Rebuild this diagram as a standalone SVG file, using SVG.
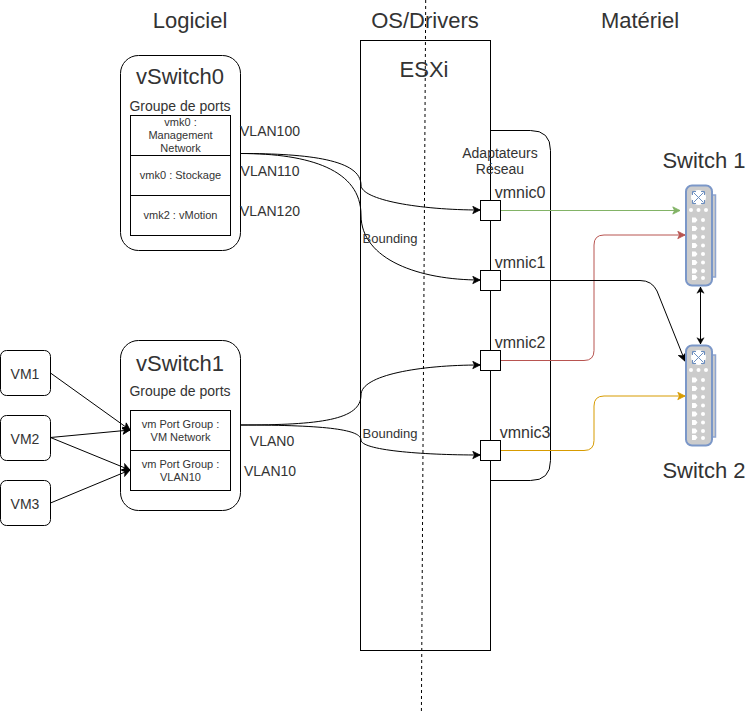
<svg xmlns="http://www.w3.org/2000/svg" width="751" height="712" viewBox="0 0 751 712">
<style>
text{font-family:"Liberation Sans",Arial,sans-serif;fill:#333;text-anchor:middle}
.b{fill:#fff;stroke:#000;stroke-width:1}
.c{fill:none;stroke:#000;stroke-width:1}
.h{font-size:22px}.t{font-size:22px}.m{font-size:14px}.s{font-size:11px}.n{font-size:16px}.l{font-size:13px}
</style>
<defs>
<marker id="a" markerUnits="userSpaceOnUse" viewBox="0 0 10 10" refX="9" refY="5" markerWidth="9" markerHeight="9" orient="auto"><path d="M1 1L9 5L1 9L3 5Z" fill="#000" stroke="#000"/></marker>
<marker id="ag" markerUnits="userSpaceOnUse" viewBox="0 0 10 10" refX="9" refY="5" markerWidth="9" markerHeight="9" orient="auto"><path d="M1 1L9 5L1 9L3 5Z" fill="#82b366" stroke="#82b366"/></marker>
<marker id="ar" markerUnits="userSpaceOnUse" viewBox="0 0 10 10" refX="9" refY="5" markerWidth="9" markerHeight="9" orient="auto"><path d="M1 1L9 5L1 9L3 5Z" fill="#b85450" stroke="#b85450"/></marker>
<marker id="ao" markerUnits="userSpaceOnUse" viewBox="0 0 10 10" refX="9" refY="5" markerWidth="9" markerHeight="9" orient="auto"><path d="M1 1L9 5L1 9L3 5Z" fill="#d79b00" stroke="#d79b00"/></marker>
<marker id="as" markerUnits="userSpaceOnUse" viewBox="0 0 10 10" refX="9" refY="5" markerWidth="9" markerHeight="9" orient="auto-start-reverse"><path d="M2 1L9 5L2 9L4 5Z" fill="#000" stroke="#000" stroke-width="0.5"/></marker>
<g id="sw">
<rect x="711.500" y="10" width="4" height="82" fill="#ccc" stroke="#8ea4cf" stroke-width="1.500"/>
<rect x="686" y="0.500" width="26" height="100" rx="6" fill="#ccc" stroke="#7b97c8" stroke-width="2"/>
<circle cx="698.500" cy="12.500" r="7.500" fill="#fff"/>
<path d="M693.500 7.500L703.500 17.500M703.500 7.500L693.500 17.500M692.500 6.500h3.500M692.500 6.500v3.500M704.500 6.500h-3.500M704.500 6.500v3.500M692.500 18.500h3.500M692.500 18.500v-3.500M704.500 18.500h-3.500M704.500 18.500v-3.500" fill="none" stroke="#6c8ebf" stroke-width="1"/>
<g fill="#fff"><circle cx="691" cy="25" r="2"/><circle cx="698.500" cy="25" r="2"/><circle cx="706" cy="25" r="2"/>
<path d="M692 32.500h3.500l2 2.500l-2 2.500h-3.500zM692 41h3.500l2 2.500l-2 2.500h-3.500zM692 49.500h3.500l2 2.500l-2 2.500h-3.500zM692 58h3.500l2 2.500l-2 2.500h-3.500zM692 66.500h3.500l2 2.500l-2 2.500h-3.500zM692 75h3.500l2 2.500l-2 2.500h-3.500zM692 83.500h3.500l2 2.500l-2 2.500h-3.500zM692 90h3.500l2 2.500l-2 2.500h-3.500z"/>
<circle cx="703" cy="35" r="2"/><circle cx="703" cy="43.500" r="2"/><circle cx="703" cy="52" r="2"/><circle cx="703" cy="60.500" r="2"/><circle cx="703" cy="69" r="2"/><circle cx="703" cy="77.500" r="2"/><circle cx="703" cy="86" r="2"/><circle cx="703" cy="93" r="2"/></g>
</g>
</defs>
<rect width="751" height="712" fill="#fff"/>
<text class="h" x="190" y="28">Logiciel</text>
<text class="h" x="425" y="28">OS/Drivers</text>
<text class="h" x="640" y="28">Matériel</text>
<g id="esxi"><rect class="b" x="360.500" y="40.500" width="130" height="610"/><text class="h" x="424" y="77">ESXi</text></g>
<g id="adaptateurs"><path class="c" d="M490.500 130.500H530.500Q550.500 130.500 550.500 150.500V460.500Q550.500 480.500 530.500 480.500H490.500"/><text class="m" x="500" y="158">Adaptateurs</text><text class="m" x="500" y="174">Réseau</text></g>
<path id="separateur" d="M425.700 0L421.400 712" fill="none" stroke="#000" stroke-dasharray="3 3"/>
<g id="vswitch0"><rect class="b" x="120.500" y="55.500" width="120" height="195" rx="18"/><text class="t" x="180" y="84">vSwitch0</text><text class="m" x="180" y="111">Groupe de ports</text>
<rect class="b" x="130.500" y="115.500" width="100" height="40"/><rect class="b" x="130.500" y="155.500" width="100" height="40"/><rect class="b" x="130.500" y="195.500" width="100" height="40"/>
<text class="s" x="180.500" y="126">vmk0 :</text><text class="s" x="180.500" y="139">Management</text><text class="s" x="180.500" y="152">Network</text><text class="s" x="180.500" y="179">vmk0 : Stockage</text><text class="s" x="180.500" y="219">vmk2 : vMotion</text></g>
<g id="vswitch1"><rect class="b" x="120.500" y="340.500" width="120" height="170" rx="18"/><text class="t" x="180" y="371">vSwitch1</text><text class="m" x="180" y="396">Groupe de ports</text>
<rect class="b" x="130.500" y="410.500" width="100" height="40"/><rect class="b" x="130.500" y="450.500" width="100" height="40"/>
<text class="s" x="180.500" y="428">vm Port Group :</text><text class="s" x="180.500" y="441">VM Network</text><text class="s" x="180.500" y="468">vm Port Group :</text><text class="s" x="180.500" y="481">VLAN10</text></g>
<g id="vm1"><rect class="b" x="0.500" y="350.500" width="50" height="45" rx="6"/><text class="m" x="25" y="379">VM1</text></g>
<g id="vm2"><rect class="b" x="0.500" y="415.500" width="50" height="45" rx="6"/><text class="m" x="25" y="444">VM2</text></g>
<g id="vm3"><rect class="b" x="0.500" y="480.500" width="50" height="45" rx="6"/><text class="m" x="25" y="509">VM3</text></g>
<g id="connectors">
<path class="c" marker-end="url(#a)" d="M50.500 373L130 430"/>
<path class="c" marker-end="url(#a)" d="M50.500 437.500L130 430"/>
<path class="c" marker-end="url(#a)" d="M50.500 437.500L130 470"/>
<path class="c" marker-end="url(#a)" d="M50.500 503L130 470"/>
<path class="c" marker-end="url(#a)" d="M240.500 153.500C310 153.500 361 160 361 185C361 200 420 210 480 210"/>
<path class="c" marker-end="url(#a)" d="M240.500 153.500C310 153.500 361 170 361 215C361 260 420 280 480 280"/>
<path class="c" marker-end="url(#a)" d="M240.500 425C320 425 361 420 361 395C361 375 420 365 480 365"/>
<path class="c" marker-end="url(#a)" d="M240.500 425C330 425 361 430 361 440C361 450 420 455 480 455"/>
<path fill="none" stroke="#82b366" marker-end="url(#ag)" d="M500.500 210.500H680"/>
<path fill="none" stroke="#b85450" marker-end="url(#ar)" d="M500.500 360.500H584Q594 360.500 594 350.500V245Q594 235 604 235H685"/>
<path class="c" marker-end="url(#a)" d="M500.500 280.500H640Q652 280.500 657 291L685 361"/>
<path fill="none" stroke="#d79b00" marker-end="url(#ao)" d="M500.500 450.500H584Q594 450.500 594 440.500V406Q594 396 604 396H685"/>
<path class="c" marker-start="url(#as)" marker-end="url(#as)" d="M700.500 287V344"/>
</g>
<g id="labels"><text class="m" x="270" y="136">VLAN100</text><text class="m" x="270" y="176">VLAN110</text><text class="m" x="270" y="216">VLAN120</text><text class="m" x="272" y="446">VLAN0</text><text class="m" x="270" y="476">VLAN10</text><text class="l" x="390" y="243">Bounding</text><text class="l" x="390" y="438">Bounding</text></g>
<g id="vmnic0"><rect class="b" x="480.500" y="200.500" width="20" height="20"/><text class="n" x="520" y="198">vmnic0</text></g>
<g id="vmnic1"><rect class="b" x="480.500" y="270.500" width="20" height="20"/><text class="n" x="520" y="268">vmnic1</text></g>
<g id="vmnic2"><rect class="b" x="480.500" y="350.500" width="20" height="20"/><text class="n" x="520" y="348">vmnic2</text></g>
<g id="vmnic3"><rect class="b" x="480.500" y="440.500" width="20" height="20"/><text class="n" x="525" y="438">vmnic3</text></g>
<g id="switch1"><use href="#sw" y="185"/><text class="h" x="704" y="168">Switch 1</text></g>
<g id="switch2"><use href="#sw" y="345"/><text class="h" x="704" y="478">Switch 2</text></g>
</svg>
